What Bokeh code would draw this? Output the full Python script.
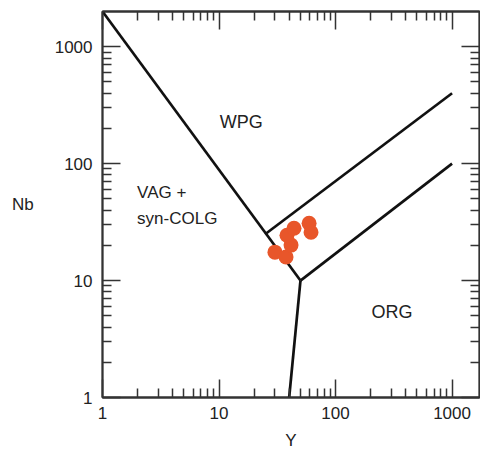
from bokeh.plotting import figure
from bokeh.models import (LogAxis, Range1d, FixedTicker, PrintfTickFormatter,
                          CustomLabelingPolicy)
from bokeh.core.properties import value
from bokeh.embed import file_html
from bokeh.resources import INLINE

# Sample data (Y ppm, Nb ppm)
sample_y = [30.2, 37.6, 41.5, 38.3, 44.0, 59.3, 61.6]
sample_nb = [17.5, 15.9, 20.1, 24.4, 28.0, 30.9, 25.9]

# Field boundaries (Pearce et al. 1984)
b1_y, b1_nb = [1, 50], [2000, 10]
b2_y, b2_nb = [50, 40], [10, 1]
b3_y, b3_nb = [50, 1000], [10, 100]
b4_y, b4_nb = [25, 1000], [25, 400]

# Field labels
center_labels = ["WPG", "ORG"]
center_y = [15.5, 305]
center_nb = [225, 5.4]
left_labels = ["VAG +", "syn-COLG"]
left_y = [1.98, 1.98]
left_nb = [56.9, 34.2]

major_ticks = [1, 10, 100, 1000]
minor_ticks = [m * 10 ** e for e in range(3) for m in range(2, 10)]

FONT = "Liberation Sans"
INK = "#222222"
FRAME = "#333333"

p = figure(width=480, height=452, x_axis_type="log", y_axis_type="log",
           x_range=Range1d(1, 1720), y_range=Range1d(1, 2000),
           output_backend="svg", toolbar_location=None,
           min_border_left=102, min_border_right=1, min_border_top=11,
           min_border_bottom=54)
p.xgrid.visible = False
p.ygrid.visible = False
p.outline_line_color = FRAME
p.outline_line_width = 1.8
p.background_fill_color = "white"
p.border_fill_color = "white"

no_labels = CustomLabelingPolicy(code="""
try { return new indices.constructor(indices.size, 0) }
catch (e) { for (const i of Array.from(indices)) indices.unset(i); return indices }
""")


def style_axis(ax, labels=True):
    ax.ticker = FixedTicker(ticks=major_ticks, minor_ticks=minor_ticks)
    ax.formatter = PrintfTickFormatter(format="%d")
    ax.major_tick_in = 18
    ax.major_tick_out = 0
    ax.minor_tick_in = 9
    ax.minor_tick_out = 0
    ax.major_tick_line_color = FRAME
    ax.minor_tick_line_color = FRAME
    ax.major_tick_line_width = 1.5
    ax.minor_tick_line_width = 1.5
    ax.axis_line_color = FRAME
    ax.axis_line_width = 1.8
    ax.major_label_text_font = FONT
    ax.major_label_text_color = INK
    if labels:
        ax.major_label_text_font_size = "17px"
        ax.axis_label_text_font = FONT
        ax.axis_label_text_font_size = "17px"
        ax.axis_label_text_font_style = "normal"
        ax.axis_label_text_color = INK
    else:
        ax.major_label_text_font_size = "0px"
        ax.major_label_policy = no_labels
        ax.major_label_standoff = 0


style_axis(p.xaxis[0])
style_axis(p.yaxis[0])
p.xaxis[0].axis_label = "Y"
p.xaxis[0].major_label_standoff = 9
p.xaxis[0].axis_label_standoff = 9
p.yaxis[0].axis_label = "Nb"
p.yaxis[0].major_label_standoff = 10
p.yaxis[0].axis_label_standoff = 18
p.yaxis[0].axis_label_orientation = "horizontal"

top = LogAxis()
right = LogAxis()
style_axis(top, labels=False)
style_axis(right, labels=False)
p.add_layout(top, "above")
p.add_layout(right, "right")

for xs, ys in [(b1_y, b1_nb), (b2_y, b2_nb), (b3_y, b3_nb), (b4_y, b4_nb)]:
    p.line(xs, ys, line_color="#111111", line_width=2.7)

p.scatter(sample_y, sample_nb, size=15, fill_color="#E8562A",
          line_color=None)

p.text(center_y, center_nb, text=center_labels, text_align="center",
       text_baseline="middle", text_font=value(FONT),
       text_font_size="18px", text_color=INK)
p.text(left_y, left_nb, text=left_labels, text_align="left",
       text_baseline="middle", text_font=value(FONT),
       text_font_size="17px", text_color=INK)

open("out.html", "w").write(file_html(p, INLINE))
